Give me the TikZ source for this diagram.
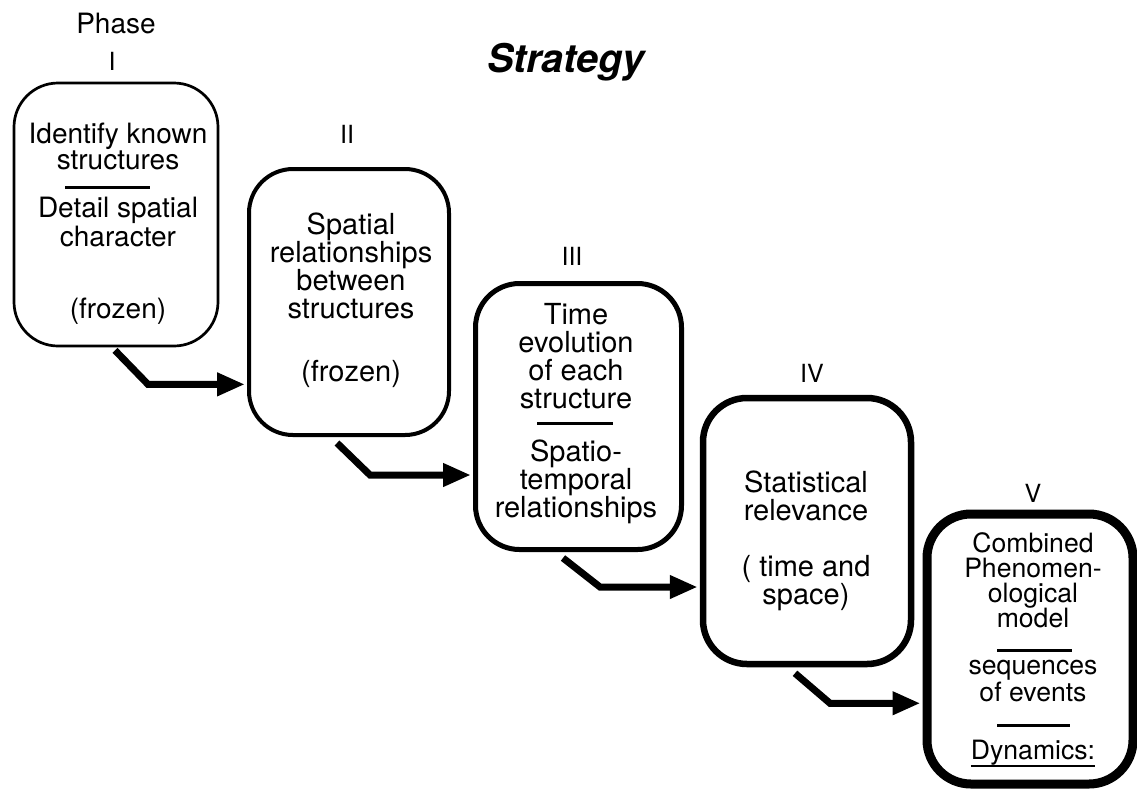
\documentclass[tikz,border=0pt]{standalone}
\usepackage{fontspec}
\setmainfont{TeX Gyre Heros}
\usetikzlibrary{arrows.meta}

\newsavebox{\ulbox}
\newcommand{\ulword}[1]{\sbox\ulbox{#1}\rlap{\rule[-3.5pt]{\wd\ulbox}{0.9pt}}\usebox\ulbox}

\begin{document}
\begin{tikzpicture}[x=0.5pt, y=-0.5pt, >={Triangle[length=14pt,width=11pt]},
    phasebox/.style={draw, rounded corners=22pt, inner sep=0pt},
    boxtext/.style={anchor=north, align=center, inner sep=0pt, font=\fontsize{14.5}{14}\selectfont},
    numeral/.style={anchor=base, inner sep=0pt, font=\fontsize{12.5}{14}\selectfont},
    sepline/.style={line width=1.5pt},
    flow/.style={->, line width=3.5pt, line join=miter, shorten >=1pt}]

    \useasboundingbox (0,0) rectangle (1137,789);

    % --- Title and phase numbers ---
    \node[anchor=base, inner sep=0pt, font=\bfseries\itshape\fontsize{19.75}{22}\selectfont] (title) at (566,72) {Strategy};
    \node[anchor=base, inner sep=0pt, font=\fontsize{14}{14}\selectfont] (phase) at (116,33) {Phase};
    \node[numeral] (n1) at (112,70) {I};
    \node[numeral] (n2) at (347,143) {II};
    \node[numeral] (n3) at (572,265) {III};
    \node[numeral] (n4) at (812,382) {IV};
    \node[numeral] (n5) at (1033,502) {V};

    % --- The boxes (border gets heavier phase by phase) ---
    \node[phasebox, line width=1.35pt, minimum width=102pt, minimum height=131.5pt] (p1) at (116,214.5) {};
    \node[phasebox, line width=2pt, minimum width=100pt, minimum height=133pt] (p2) at (349,302) {};
    \node[phasebox, line width=2.5pt, minimum width=103pt, minimum height=133pt] (p3) at (578.5,416.5) {};
    \node[phasebox, line width=3.25pt, minimum width=104pt, minimum height=133pt] (p4) at (807,531) {};
    \node[phasebox, line width=4.5pt, minimum width=103pt, minimum height=135pt] (p5) at (1030,649) {};

    % --- Box texts ---
    \node[boxtext, font=\fontsize{14}{13}\selectfont] (t1) at (118,123)
        {Identify known\\structures\\[11pt]Detail spatial\\character\\[23pt](frozen)};
    \draw[sepline] (65,187) -- (150,187);

    \node[boxtext] (t2) at (351,212)
        {Spatial\\relationships\\between\\structures\\[17.5pt](frozen)};

    \node[boxtext] (t3) at (576,303)
        {Time\\evolution\\of each\\structure\\[12.5pt]Spatio-\\temporal\\relationships};
    \draw[sepline] (537,423) -- (613,423);

    \node[boxtext] (t4) at (806,470)
        {Statistical\\relevance\\[14pt]( time and\\space)};

    \node[boxtext, font=\fontsize{13.3}{12.6}\selectfont] (t5) at (1033,532)
        {Combined\\Phenomen-\\ological\\model\\[10.5pt]sequences\\of events\\[16.5pt]\ulword{Dynamics:}};
    \draw[sepline] (997,650) -- (1072,650);
    \draw[sepline] (997,725) -- (1070,725);

    % --- Arrows from one phase to the next ---
    \draw[flow] ([shift={(-0.5pt,-1.5pt)}]p1.south) -- ++(33,34) coordinate (k1) -- (k1 -| p2.west);
    \draw[flow] ([shift={(-6pt,-3pt)}]p2.south) -- ++(33,32) coordinate (k2) -- (k2 -| p3.west);
    \draw[flow] ([shift={(-7.75pt,-3pt)}]p3.south) -- ++(37,29) coordinate (k3) -- (k3 -| p4.west);
    \draw[flow] ([shift={(-6pt,-3pt)}]p4.south) -- ++(35,30) coordinate (k4) -- (k4 -| p5.west);

\end{tikzpicture}
\end{document}
